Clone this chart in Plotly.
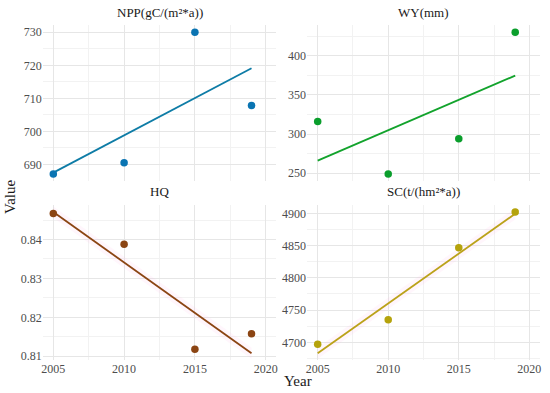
import numpy as np
import plotly.graph_objects as go

# ---- data ----
years = [2005, 2010, 2015, 2019]
npp = [687.1, 690.5, 730.0, 707.8]
wy = [316.0, 249.0, 294.0, 430.0]
hq = [0.8467, 0.8388, 0.8118, 0.8158]
sc = [4697.0, 4735.0, 4846.5, 4902.0]

titles = ["NPP(gC/(m²*a))", "WY(mm)", "HQ", "SC(t/(hm²*a))"]
series = [npp, wy, hq, sc]
point_colors = ["#0A74B2", "#0A9E2C", "#8B4513", "#B5A30C"]
line_colors = ["#0E7CA6", "#12A32C", "#8B4513", "#BBA21A"]
y_dticks = [10, 50, 0.01, 50]
band_on = [False, False, True, True]

FONT = "Liberation Serif"
W, H = 550, 393

# panel pixel boxes (left, right, top, bottom)
xpx = [(42.7, 276.3), (307.1, 539.9), (42.7, 276.3), (307.1, 539.9)]
ypx = [(25.2, 181.0), (25.2, 181.0), (205.0, 360.2), (205.0, 360.2)]

fig = go.Figure()
xr = [2004.25, 2020.75]

for i, (vals, title) in enumerate(zip(series, titles)):
    ax = "" if i == 0 else str(i + 1)
    xa, ya = "x" + ax, "y" + ax
    x = np.array(years, dtype=float)
    y = np.array(vals, dtype=float)
    slope, icpt = np.polyfit(x, y, 1)
    xf = np.array([x.min(), x.max()])
    yf = slope * xf + icpt

    lo = min(y.min(), yf.min())
    hi = max(y.max(), yf.max())
    pad = (hi - lo) * 0.05
    yr = [lo - pad, hi + pad]

    if band_on[i]:
        w = (hi - lo) * 0.04
        fig.add_trace(go.Scatter(
            x=list(xf) + list(xf[::-1]),
            y=list(yf + w) + list((yf - w)[::-1]),
            fill="toself", fillcolor="rgba(255,170,230,0.10)",
            line=dict(width=0), mode="lines", hoverinfo="skip",
            showlegend=False, xaxis=xa, yaxis=ya))

    fig.add_trace(go.Scatter(x=xf, y=yf, mode="lines",
                             line=dict(color=line_colors[i], width=1.8),
                             showlegend=False, xaxis=xa, yaxis=ya))
    fig.add_trace(go.Scatter(x=x, y=y, mode="markers",
                             marker=dict(color=point_colors[i], size=7.5),
                             showlegend=False, xaxis=xa, yaxis=ya))

    l, r = xpx[i]
    t, b = ypx[i]
    xd = [l / W, r / W]
    yd = [1 - b / H, 1 - t / H]
    bottom_row = i >= 2
    fig.update_layout(**{
        "xaxis" + ax: dict(
            domain=xd, range=xr, dtick=5, tick0=2005, automargin=False,
            showticklabels=bottom_row, showgrid=True, gridcolor="#E6E6E6",
            gridwidth=1, zeroline=False, showline=False, ticks="",
            minor=dict(dtick=2.5, showgrid=True, gridcolor="#F2F2F2", gridwidth=1),
            tickfont=dict(family=FONT, size=12, color="#4D4D4D"),
            anchor=ya),
        "yaxis" + ax: dict(
            domain=yd, range=yr, dtick=y_dticks[i], tick0=0, automargin=False,
            showgrid=True, gridcolor="#E6E6E6", gridwidth=1,
            zeroline=False, showline=False, ticks="",
            minor=dict(dtick=y_dticks[i] / 2, showgrid=True,
                       gridcolor="#F2F2F2", gridwidth=1),
            tickfont=dict(family=FONT, size=12, color="#4D4D4D"),
            anchor=xa),
    })
    fig.add_annotation(x=(l + r) / 2 / W, y=1 - (t - 13) / H,
                       xref="paper", yref="paper", text=title,
                       showarrow=False, xanchor="center", yanchor="middle",
                       font=dict(family=FONT, size=13, color="#1A1A1A"))

fig.add_annotation(x=10 / W, y=1 - 197 / H, xref="paper", yref="paper",
                   text="Value", textangle=-90, showarrow=False,
                   xanchor="center", yanchor="middle",
                   font=dict(family=FONT, size=15, color="#1A1A1A"))
fig.add_annotation(x=282 / W, y=1 - 381 / H, xref="paper", yref="paper",
                   text="Year", showarrow=False,
                   xanchor="left", yanchor="middle",
                   font=dict(family=FONT, size=15, color="#1A1A1A"))

fig.update_layout(template="none", width=W, height=H,
                  margin=dict(l=0, r=0, t=0, b=0),
                  paper_bgcolor="white", plot_bgcolor="white",
                  font=dict(family=FONT))
fig.write_html("out.html",
               config={"displayModeBar": False},
               post_script="document.body.style.margin='0';"
                           "document.body.style.overflow='hidden';")
